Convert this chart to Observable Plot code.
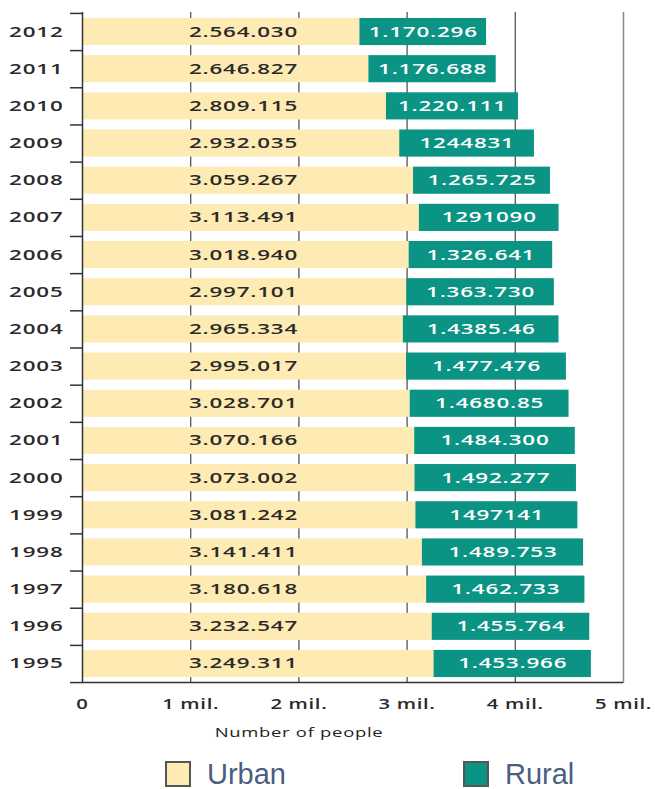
<!DOCTYPE html>
<html>
<head>
<meta charset="utf-8">
<script src="https://cdn.jsdelivr.net/npm/d3@7"></script>
<script src="https://cdn.jsdelivr.net/npm/@observablehq/plot@0.6"></script>
<style>
  body { margin: 0; background: #fff; }
  #chart svg text { letter-spacing: 0.5px; }
  #legend { position: relative; width: 655px; height: 39px; font-family: "Liberation Sans Narrow", "Liberation Sans", sans-serif; }
  .item { position: absolute; top: 6px; display: flex; align-items: center; }
  .sw { width: 22px; height: 22px; border: 2px solid #555; box-sizing: content-box; }
  .lab { margin-left: 16px; font-size: 29px; line-height: 36px; color: #4a5e82; }
</style>
</head>
<body>
<div id="chart"></div>
<div id="legend"></div>
<script>
// ---- data ----
const years = [2012, 2011, 2010, 2009, 2008, 2007, 2006, 2005, 2004, 2003, 2002, 2001, 2000, 1999, 1998, 1997, 1996, 1995];
const urban = [2564030, 2646827, 2809115, 2932035, 3059267, 3113491, 3018940, 2997101, 2965334, 2995017, 3028701, 3070166, 3073002, 3081242, 3141411, 3180618, 3232547, 3249311];
const rural = [1170296, 1176688, 1220111, 1244831, 1265725, 1291090, 1326641, 1363730, 1438546, 1477476, 1468085, 1484300, 1492277, 1497141, 1489753, 1462733, 1455764, 1453966];
const urbanLabels = ["2.564.030", "2.646.827", "2.809.115", "2.932.035", "3.059.267", "3.113.491", "3.018.940", "2.997.101", "2.965.334", "2.995.017", "3.028.701", "3.070.166", "3.073.002", "3.081.242", "3.141.411", "3.180.618", "3.232.547", "3.249.311"];
const ruralLabels = ["1.170.296", "1.176.688", "1.220.111", "1244831", "1.265.725", "1291090", "1.326.641", "1.363.730", "1.4385.46", "1.477.476", "1.4680.85", "1.484.300", "1.492.277", "1497141", "1.489.753", "1.462.733", "1.455.764", "1.453.966"];
const xTicks = [0, 1000000, 2000000, 3000000, 4000000, 5000000];
const xTickLabels = ["0", "1 mil.", "2 mil.", "3 mil.", "4 mil.", "5 mil."];
const gridTicks = [1000000, 2000000, 3000000, 4000000];
const seriesNames = ["Urban", "Rural"];
const seriesColors = ["#feebb3", "#0b9383"];
const axisTitle = "Number of people";

// ---- layout ----
const W = 655, H = 750, MT = 12, MB = 67, ML = 82, MR = 32;
const PI = 0.27, PO = 0.16;
const step = (H - MT - MB) / (years.length - PI + 2 * PO);

const rows = years.map((y, i) => ({year: String(y), urban: urban[i], rural: rural[i], ul: urbanLabels[i], rl: ruralLabels[i]}));
const yDomain = years.map(String);

const chart = Plot.plot({
  width: W, height: H,
  marginTop: MT, marginBottom: MB, marginLeft: ML, marginRight: MR,
  style: {fontFamily: "'Open Sans', sans-serif", color: "#222", background: "#fff"},
  x: {domain: [0, 5000000], label: null},
  y: {domain: yDomain, type: "band", paddingInner: PI, paddingOuter: PO, round: false, label: null},
  marks: [
    Plot.ruleX(gridTicks, {stroke: "#555", strokeWidth: 1.3}),
    Plot.barX(rows, {y: "year", x1: d => 0, x2: "urban", fill: seriesColors[0]}),
    Plot.barX(rows, {y: "year", x1: "urban", x2: d => d.urban + d.rural, fill: seriesColors[1]}),
    Plot.ruleX([0], {stroke: "#333", strokeWidth: 1.5}),
    Plot.ruleX([5000000], {stroke: "#888", strokeWidth: 1.5}),
    Plot.ruleY([yDomain[yDomain.length - 1]], {dy: step / 2, stroke: "#333", strokeWidth: 1.5}),
    Plot.axisY({ticks: yDomain, tickSize: 12, text: null, label: null, dy: -step / 2, stroke: "#333", strokeWidth: 1.5}),
    Plot.axisY({ticks: [yDomain[yDomain.length - 1]], tickSize: 12, text: null, label: null, dy: step / 2, stroke: "#333", strokeWidth: 1.5}),
    Plot.axisY({tickSize: 0, tickPadding: 19, fontSize: 14, fontWeight: 600, fill: "#2a2a2a", label: null}),
    Plot.axisX({ticks: xTicks, tickSize: 0, tickPadding: 15, fontSize: 15, fontWeight: 600, fill: "#2a2a2a",
      tickFormat: d => xTickLabels[xTicks.indexOf(d)], label: null}),
    Plot.text([axisTitle], {frameAnchor: "bottom", dx: -54, dy: 53, fontSize: 13, fill: "#222"}),
    Plot.text(rows, {y: "year", text: "ul", frameAnchor: "left", textAnchor: "middle", dx: 161, fontSize: 14, fontWeight: 600, fill: "#2a2a2a"}),
    Plot.text(rows, {y: "year", x: d => d.urban + d.rural / 2, text: "rl", fontSize: 14, fontWeight: 600, fill: "#fff"})
  ]
});

// horizontally stretch glyphs like the reference artwork
chart.querySelectorAll("text").forEach(t => {
  const g = t.closest("g[aria-label]");
  const kind = g ? g.getAttribute("aria-label") : "";
  let s = 1.6;
  if (kind === "x-axis tick label") s = 1.35;
  if (t.textContent === axisTitle) s = 1.42;
  const tr = t.getAttribute("transform") || "";
  t.setAttribute("transform", tr + ` scale(${s},1)`);
});
document.getElementById("chart").appendChild(chart);

// legend
const legend = document.getElementById("legend");
const lefts = [165, 463];
seriesNames.forEach((name, i) => {
  const item = document.createElement("div");
  item.className = "item";
  item.style.left = lefts[i] + "px";
  const sw = document.createElement("div");
  sw.className = "sw";
  sw.style.background = seriesColors[i];
  const lab = document.createElement("span");
  lab.className = "lab";
  lab.textContent = name;
  item.appendChild(sw);
  item.appendChild(lab);
  legend.appendChild(item);
});
</script>
</body>
</html>
